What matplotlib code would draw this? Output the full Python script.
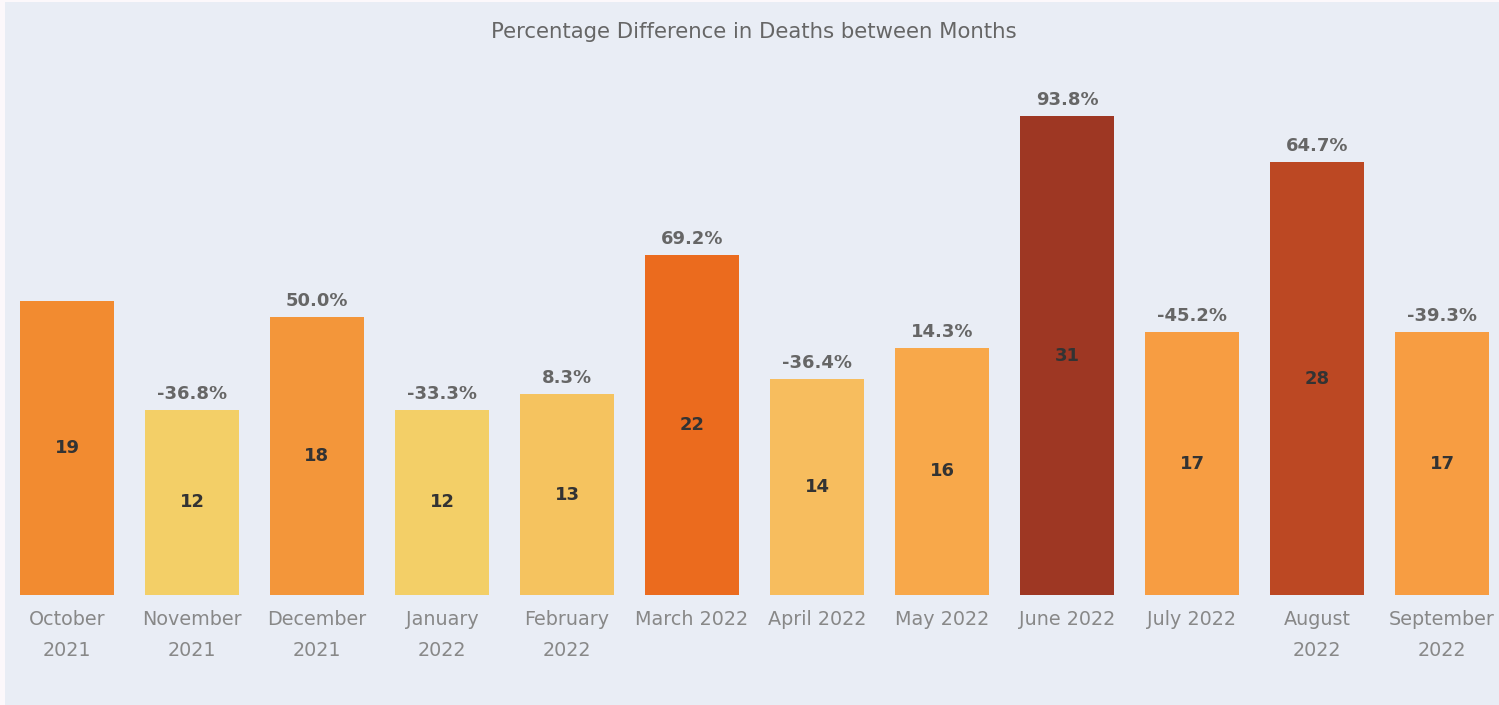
import matplotlib
matplotlib.use("Agg")
import matplotlib.pyplot as plt

months = ["October\n2021", "November\n2021", "December\n2021", "January\n2022",
          "February\n2022", "March 2022", "April 2022", "May 2022", "June 2022",
          "July 2022", "August\n2022", "September\n2022"]
deaths = [19, 12, 18, 12, 13, 22, 14, 16, 31, 17, 28, 17]
pct_diff = [None, "-36.8%", "50.0%", "-33.3%", "8.3%", "69.2%", "-36.4%",
            "14.3%", "93.8%", "-45.2%", "64.7%", "-39.3%"]
colors = ["#F28B30", "#F3CF67", "#F3963A", "#F3CF67", "#F5C35F", "#EB6B1E",
          "#F7BD5E", "#F8A84A", "#9E3723", "#F79D42", "#BC4823", "#F79D42"]

plt.rcParams['font.family'] = ['DejaVu Sans']

fig = plt.figure(figsize=(14.99, 7.05), dpi=100, facecolor="#FCF8FB")
ax = fig.add_axes([5 / 1499, 0, 1 - 5 / 1499, 703 / 705])
ax.set_facecolor("#E9EDF5")

x = list(range(len(months)))
ax.bar(x, deaths, width=0.75, color=colors, edgecolor="none")

for i, v in enumerate(deaths):
    ax.text(i, v / 2, str(v), ha="center", va="center", fontsize=13,
            fontweight="bold", color="#333333")
    if pct_diff[i]:
        ax.annotate(pct_diff[i], (i, v), xytext=(0, 5), textcoords="offset points",
                    ha="center", va="bottom", fontsize=13, fontweight="bold",
                    color="#666666")
    ax.annotate(months[i], (i, 0), xytext=(0, -11), textcoords="offset points",
                ha="center", va="top", fontsize=13.8, color="#888888",
                linespacing=1.75)

ax.set_xlim(-0.496, 11.456)
ax.set_ylim(-7.12, 38.38)
for s in ax.spines.values():
    s.set_visible(False)
ax.set_xticks([])
ax.set_yticks([])

fig.text(0.503, 0.954, "Percentage Difference in Deaths between Months",
         ha="center", va="center", fontsize=15.3, color="#666666")

fig.savefig("out.png", dpi=100, facecolor=fig.get_facecolor())
